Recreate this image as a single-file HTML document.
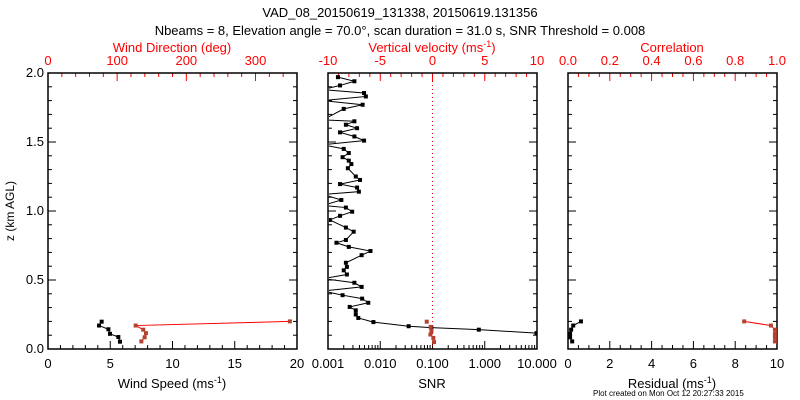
<!DOCTYPE html>
<html><head><meta charset="utf-8"><style>
html,body{margin:0;padding:0;background:#fff}
svg{display:block;font-family:"Liberation Sans",sans-serif}
</style></head><body>
<svg id="c" width="800" height="400" viewBox="0 0 800 400">
<text x="400" y="17" font-size="13" text-anchor="middle">VAD_08_20150619_131338, 20150619.131356</text>
<text x="400" y="35" font-size="13" text-anchor="middle">Nbeams = 8, Elevation angle = 70.0°, scan duration = 31.0 s, SNR Threshold = 0.008</text>
<text x="14" y="211" font-size="12" text-anchor="middle" transform="rotate(-90 14 211)">z (km AGL)</text>
<text x="593" y="396" font-size="8" text-anchor="start">Plot created on Mon Oct 12 20:27:33 2015</text>
</svg>
<script>
// Left panel data
const leftZ = [0.198,0.17,0.143,0.11,0.087,0.053];
const windSpeed = [4.31,4.1,4.85,4.98,5.65,5.78];
const dirZ = [0.2,0.17,0.14,0.115,0.085,0.055];
const windDir = [349.7,126.7,137.7,141.6,139.7,135];
// Middle panel data
const snrZ = [1.97,1.94,1.91,1.88,1.855,1.83,1.80,1.77,1.74,1.66,1.65,1.625,1.60,1.57,1.54,1.51,1.48,1.45,1.42,1.39,1.365,1.34,1.31,1.25,1.225,1.195,1.17,1.14,1.12,1.08,1.04,1.025,0.995,0.965,0.935,0.88,0.85,0.79,0.77,0.74,0.71,0.68,0.625,0.595,0.57,0.54,0.51,0.48,0.45,0.42,0.39,0.365,0.335,0.305,0.28,0.25,0.225,0.195,0.165,0.155,0.14,0.115];
const snr = [0.00155,0.0032,0.0017,0.0008,0.0049,0.0053,0.0008,0.0046,0.0020,0.0008,0.0032,0.0022,0.0036,0.0017,0.0032,0.0049,0.0008,0.0020,0.0025,0.0019,0.0025,0.0028,0.0024,0.0034,0.0041,0.0017,0.0036,0.0039,0.0008,0.0018,0.0008,0.0022,0.0029,0.0017,0.00108,0.0022,0.0031,0.0022,0.00145,0.0025,0.0065,0.0044,0.0022,0.0023,0.0020,0.0023,0.0008,0.0032,0.0044,0.0008,0.0019,0.0045,0.0059,0.0026,0.0034,0.0034,0.0038,0.0074,0.035,0.095,0.77,9.8];
const velZ = [0.198,0.16,0.13,0.105,0.08,0.05];
const velocity = [-0.55,-0.17,-0.1,-0.2,0.08,0.15];
// Right panel data
const resZ = [0.2,0.17,0.14,0.11,0.085,0.055];
const residual = [0.62,0.25,0.15,0.1,0.1,0.2];
const corZ = [0.2,0.17,0.14,0.11,0.085,0.055];
const correlation = [0.843,0.971,0.99,0.99,0.99,0.99];

const svg=document.getElementById('c');
const NS='http://www.w3.org/2000/svg';
function mk(t,a,parent){const e=document.createElementNS(NS,t);for(const k in a)e.setAttribute(k,a[k]);(parent||svg).appendChild(e);return e;}
const Y0=349,Y1=73;
const yS=z=>Y0-(z/2)*(Y0-Y1);
const RED='#ff0000',BRN='#b5422f';
function frame(x0,x1,name){
  const r=mk('rect',{x:x0,y:Y1,width:x1-x0,height:Y0-Y1,fill:'none',stroke:'#000','stroke-width':1.5});
  
  
}
function yTicks(x0,x1,labels){
  for(let i=0;i<=20;i++){const z=i*0.1;const y=yS(z);const L=(i%5===0)?8:4;
    mk('line',{x1:x0,x2:x0+L,y1:y,y2:y,stroke:'#000'});mk('line',{x1:x1,x2:x1-L,y1:y,y2:y,stroke:'#000'});
    if(labels&&i%5===0){const t=mk('text',{x:x0-4,y:y+4,'font-size':13,'text-anchor':'end'});t.textContent=z.toFixed(1);
      
      }}
}
function linTicks(x0,x1,vmin,vmax,major,minor,fmt,pos,color,majLab){
  const sc=v=>x0+(v-vmin)/(vmax-vmin)*(x1-x0);
  const n=Math.round((vmax-vmin)/minor);
  for(let i=0;i<=n;i++){const v=vmin+i*minor;const x=sc(v);const isM=Math.abs(v/major-Math.round(v/major))<1e-6;const L=isM?8:4;
    if(pos==='b')mk('line',{x1:x,x2:x,y1:Y0,y2:Y0-L,stroke:color});else mk('line',{x1:x,x2:x,y1:Y1,y2:Y1+L,stroke:color});
    if(isM&&(!majLab||majLab(v))){const t=mk('text',{x:x,y:pos==='b'?Y0+19:Y1-8,'font-size':13,'text-anchor':'middle',fill:color});t.textContent=fmt(v);
      
      }}
  return sc;
}
function label(x,y,txt,color,name,sup){
  const t=mk('text',{x:x,y:y,'font-size':13,'text-anchor':'middle',fill:color});
  t.textContent=txt;
  if(sup){const s=mk('tspan',{'font-size':9,dy:-5},t);s.textContent=sup;const e=mk('tspan',{dy:5},t);e.textContent=')';}
  
  
}
function series(xs,zs,xf,color,name,clipId,noLine){
  const g=mk('g',{'clip-path':'url(#'+clipId+')'});
  const pts=xs.map((v,i)=>[xf(v),yS(zs[i])]);
  if(!noLine){
    const cp=mk('polyline',{points:pts.map(p=>p.join(',')).join(' '),fill:'none',stroke:color,'stroke-width':1},g);
    
    
  }
  pts.forEach(p=>{if(p[0]<0)return;const r=mk('rect',{x:p[0]-2,y:p[1]-2,width:4,height:4,fill:color===RED?BRN:'#000'},g);
    
    });
  return g;
}
function clip(id,x0,x1){const d=mk('clipPath',{id:id});mk('rect',{x:x0,y:Y1,width:x1-x0,height:Y0-Y1},d);}
clip('cl',48,297);clip('cm',329,537);clip('cr',568,778);

// Left
const L0=48,L1=297;
yTicks(L0,L1,true);
const sx=linTicks(L0,L1,0,20,5,1,v=>String(v),'b','#000');
const dx=linTicks(L0,L1,0,360,100,20,v=>String(v),'t',RED,v=>v<=300);
frame(L0,L1,'left-panel');
label(172,388,'Wind Speed (ms','#000','left-x-axis-title','-1');
label(172,52,'Wind Direction (deg)',RED,'left-top-axis-title');
series(windDir,dirZ,dx,RED,'wind-direction','cl');
series(windSpeed,leftZ,sx,'#000','wind-speed','cl');

// Middle
const M0=328,M1=537;
yTicks(M0,M1,false);
const lx=v=>M0+(Math.log10(v)+3)/4*(M1-M0);
for(let d=-3;d<1;d++){for(let k=1;k<10;k++){const x=lx(k*Math.pow(10,d));mk('line',{x1:x,x2:x,y1:Y0,y2:Y0-(k===1?8:4),stroke:'#000'});}}
mk('line',{x1:M1,x2:M1,y1:Y0,y2:Y0-8,stroke:'#000'});
const snrLab=['0.001','0.010','0.100','1.000','10.000'];
snrLab.forEach((s,i)=>{const t=mk('text',{x:lx(Math.pow(10,i-3)),y:Y0+19,'font-size':13,'text-anchor':'middle'});t.textContent=s;
  
  });
const vx=linTicks(M0,M1,-10,10,5,1,v=>String(v),'t',RED);
mk('line',{x1:vx(0),x2:vx(0),y1:Y1,y2:Y0,stroke:RED,'stroke-dasharray':'1,3'});
frame(M0,M1,'middle-panel');
label(432,388,'SNR','#000','middle-x-axis-title');
label(432,52,'Vertical velocity (ms',RED,'middle-top-axis-title','-1');
series(snr,snrZ,lx,'#000','snr','cm');
series(velocity,velZ,vx,RED,'vertical-velocity','cm',true);

// Right
const R0=568,R1=777;
yTicks(R0,R1,false);
const rx=linTicks(R0,R1,0,10,2,0.5,v=>String(v),'b','#000');
const cx=linTicks(R0,R1,0,1,0.2,0.05,v=>v.toFixed(1),'t',RED);
frame(R0,R1,'right-panel');
label(672,388,'Residual (ms','#000','right-x-axis-title','-1');
label(672,52,'Correlation',RED,'right-top-axis-title');
series(correlation,corZ,cx,RED,'correlation','cr');
series(residual,resZ,rx,'#000','residual','cr');
</script>
</body></html>
